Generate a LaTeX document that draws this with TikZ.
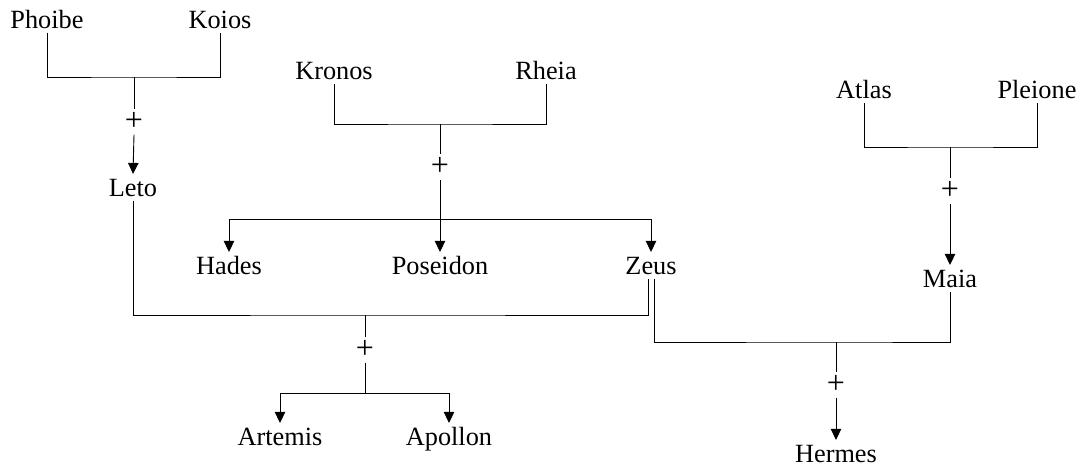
\documentclass[tikz,border=0pt]{standalone}
\usepackage{fontspec}
\setmainfont{Liberation Serif}
\usetikzlibrary{arrows.meta}
\tikzset{
  person/.style={anchor=base, inner xsep=0pt, inner ysep=4.5pt, text height=17.4pt, text depth=0pt,
    font=\fontsize{26.3pt}{30pt}\selectfont},
  plus/.style={inner sep=0pt, minimum height=25pt, text height=16pt, text depth=0pt,
    font=\fontsize{32pt}{36pt}\selectfont},
  link/.style={draw=black, line width=0.9pt},
  child/.style={link, -{Triangle[width=10.5pt,length=11pt]}}
}
\begin{document}
\begin{tikzpicture}[x=1pt,y=-1pt]
\useasboundingbox (0,0) rectangle (1080,466);
% people
\node[person] (Phoibe) at (47,28) {Phoibe};
\node[person] (Koios) at (220,28) {Koios};
\node[person] (Leto) at (133,196) {Leto};
\node[person] (Kronos) at (334,79) {Kronos};
\node[person] (Rheia) at (546,79) {Rheia};
\node[person] (Hades) at (229,274) {Hades};
\node[person] (Poseidon) at (440,274) {Poseidon};
\node[person] (Zeus) at (651,274) {Zeus};
\node[person] (Atlas) at (864,98) {Atlas};
\node[person] (Pleione) at (1037,98) {Pleione};
\node[person] (Maia) at (950,287) {Maia};
\node[person] (Artemis) at (280,445) {Artemis};
\node[person] (Apollon) at (449,445) {Apollon};
\node[person] (Hermes) at (836,462) {Hermes};
% plus signs
\node[plus] (p1) at (134,122) {+};
\node[plus] (p2) at (440,167) {+};
\node[plus] (p3) at (950,191) {+};
\node[plus] (p4) at (365,350) {+};
\node[plus] (p5) at (836,385) {+};
% junctions
\coordinate (jPK) at (134,77);
\coordinate (jKR) at (440,124);
\coordinate (jKRc) at (440,219);
\coordinate (jAP) at (950,147);
\coordinate (jLZ) at (365,315);
\coordinate (jLZc) at (365,393);
\coordinate (jZM) at (836,342);
% Phoibe + Koios
\draw[link] (Phoibe.south) |- (jPK) -| (Koios.south);
\draw[link] (jPK) -- (p1.north);
\draw[child] (p1.south) -- (Leto.north);
% Kronos + Rheia
\draw[link] (Kronos.south) |- (jKR) -| (Rheia.south);
\draw[link] (jKR) -- (p2.north);
\draw[link] (p2.south) -- (jKRc);
\draw[child] (jKRc) -| (Hades.north);
\draw[child] (jKRc) -- (Poseidon.north);
\draw[child] (jKRc) -| (Zeus.north);
% Atlas + Pleione
\draw[link] (Atlas.south) |- (jAP) -| (Pleione.south);
\draw[link] (jAP) -- (p3.north);
\draw[child] (p3.south) -- (Maia.north);
% Leto + Zeus
\draw[link] (Leto.south) |- (jLZ) -| ([xshift=-3pt]Zeus.south);
\draw[link] (jLZ) -- (p4.north);
\draw[link] (p4.south) -- (jLZc);
\draw[child] (jLZc) -| (Artemis.north);
\draw[child] (jLZc) -| (Apollon.north);
% Zeus + Maia
\draw[link] ([xshift=3pt]Zeus.south) |- (jZM) -| (Maia.south);
\draw[link] (jZM) -- (p5.north);
\draw[child] (p5.south) -- (Hermes.north);
\end{tikzpicture}
\end{document}
